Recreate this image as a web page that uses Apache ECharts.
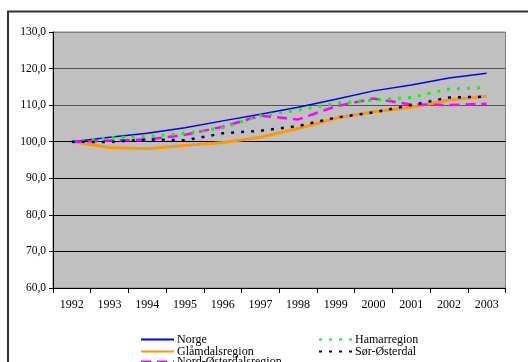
<!DOCTYPE html>
<html><head><meta charset="utf-8">
<script src="https://cdn.jsdelivr.net/npm/echarts@6/dist/echarts.min.js"></script>
<style>html,body{margin:0;padding:0;background:#fff}#c{width:528px;height:362px}</style>
</head><body><div id="c"></div>
<script>
const years = ['1992','1993','1994','1995','1996','1997','1998','1999','2000','2001','2002','2003'];
const norge = [100, 101.2, 102.3, 103.8, 105.7, 107.5, 109.4, 111.6, 113.9, 115.5, 117.4, 118.7];
const glamdal = [100, 98.4, 98.1, 99.0, 99.8, 101.2, 103.6, 106.4, 108.2, 109.4, 111.4, 112.4];
const nordOst = [100, 100.3, 100.6, 101.9, 104.1, 107.1, 106.1, 109.7, 111.8, 110.2, 110.0, 110.4];
const hamar = [100, 101.1, 101.4, 102.3, 103.8, 107.1, 108.6, 110.5, 111.4, 112.1, 114.4, 114.8];
const sorOst = [100, 99.9, 100.6, 100.4, 102.3, 103.0, 104.3, 106.6, 108.0, 110.0, 112.1, 112.3];
const yTicks = [60, 70, 80, 90, 100, 110, 120, 130];

const font = 'Liberation Serif';
const chart = echarts.init(document.getElementById('c'));
function mk(name, data, color, width, type) {
  return {name, type: 'line', data, showSymbol: false, symbol: 'none', smooth: false,
    lineStyle: {color, width, type}, itemStyle: {color}, z: 3};
}
function lg(left, top, data) {
  return {left, top, orient: 'vertical', itemGap: 0, itemWidth: 33, itemHeight: 8, padding: 0,
    data, itemStyle: {opacity: 0},
    textStyle: {fontFamily: font, fontSize: 12, color: '#000', lineHeight: 11, padding: [0,0,0,-2]}};
}
chart.setOption({
  animation: false,
  backgroundColor: '#fff',
  graphic: [{type: 'rect', shape: {x: 8, y: 11.5, width: 600, height: 400},
    style: {fill: 'none', stroke: '#333', lineWidth: 2}, z: 0}],
  grid: {left: 53, top: 32, right: 22.5, bottom: 74, show: true, backgroundColor: '#c0c0c0',
    borderColor: '#808080', borderWidth: 1},
  legend: [
    lg(140, 333.5, ['Norge', 'Glåmdalsregion']),
    lg(140, 355.5, ['Nord-Østerdalsregion']),
    lg(318, 333.5, ['Hamarregion', 'Sør-Østerdal'])
  ],
  xAxis: {type: 'category', data: years, boundaryGap: true,
    axisLine: {lineStyle: {color: '#000', width: 1}},
    axisTick: {show: true, length: 5, lineStyle: {color: '#000'}, alignWithLabel: false},
    axisLabel: {fontFamily: font, fontSize: 12, color: '#000', margin: 11},
    splitLine: {show: false}},
  yAxis: {type: 'value', min: 60, max: 130, interval: 10,
    axisLine: {show: true, lineStyle: {color: '#000', width: 1}},
    axisTick: {show: true, length: 4, lineStyle: {color: '#000'}},
    axisLabel: {fontFamily: font, fontSize: 11.5, color: '#000', margin: 7,
      formatter: v => v.toFixed(1).replace('.', ',')},
    splitLine: {show: true, lineStyle: {color: ['#000','#000','#000','#000','#000','#555','#555','#808080'], width: 1}}},
  series: [
    mk('Norge', norge, '#0000ff', 1.5, 'solid'),
    mk('Glåmdalsregion', glamdal, '#ff9900', 3, 'solid'),
    mk('Nord-Østerdalsregion', nordOst, '#ff00ff', 2.5, [10, 6]),
    mk('Hamarregion', hamar, '#00ff00', 3, [3, 7]),
    mk('Sør-Østerdal', sorOst, '#000080', 2.5, [3, 7])
  ]
});
</script></body></html>
